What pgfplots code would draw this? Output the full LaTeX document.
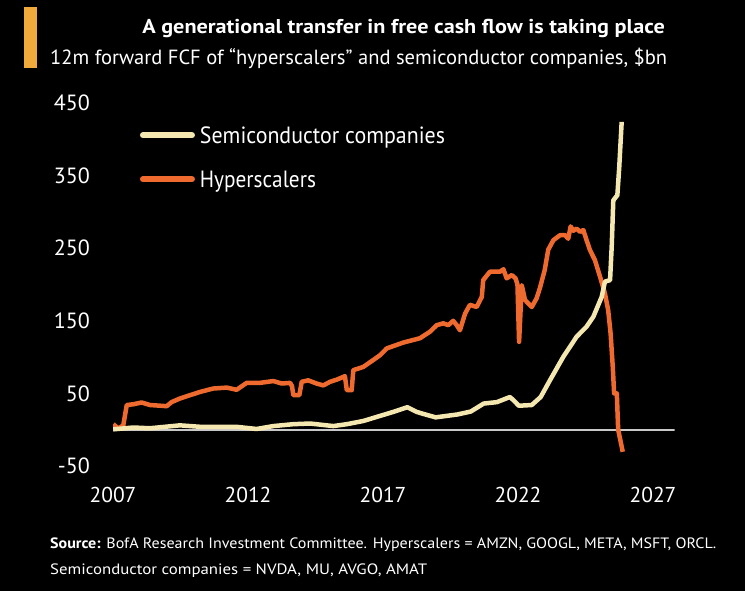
\documentclass[border=0pt]{standalone}
\usepackage{pgfplots}
\pgfplotsset{compat=1.18}
\usepackage{graphicx}
\usepackage{fontspec}
\setmainfont{PT Sans}
\definecolor{hyper}{HTML}{EE6A2E}
\definecolor{semi}{HTML}{F5E7B0}
\definecolor{zeroline}{HTML}{C8C8C8}
\definecolor{barcol}{HTML}{F2A93B}
\begin{document}
\begin{tikzpicture}
\path[use as bounding box, fill=black] (0,0) rectangle (745bp,591bp);
\fill[barcol] (24bp,523bp) rectangle (37bp,584bp);
\node[anchor=base east, inner sep=0pt, text=white] at (665bp,557.7bp)
  {\resizebox{522.5bp}{\height}{\fontsize{20bp}{24bp}\selectfont\bfseries A generational transfer in free cash flow is taking place}};
\node[anchor=base west, inner sep=0pt, text=white] at (50bp,526.7bp)
  {\resizebox{617bp}{\height}{\fontsize{20.5bp}{24bp}\selectfont 12m forward FCF of “hyperscalers” and semiconductor companies, \$bn}};
\node[anchor=base west, inner sep=0pt, text=white] at (50bp,42bp)
  {\resizebox{666bp}{\height}{\fontsize{15bp}{18bp}\selectfont\textbf{Source:} BofA Research Investment Committee. Hyperscalers = AMZN, GOOGL, META, MSFT, ORCL.}};
\node[anchor=base west, inner sep=0pt, text=white] at (50bp,17bp)
  {\resizebox{377bp}{\height}{\fontsize{15bp}{18bp}\selectfont Semiconductor companies = NVDA, MU, AVGO, AMAT}};
\begin{axis}[
  at={(113bp,125bp)}, anchor=south west,
  scale only axis, width=561.6bp, height=363bp,
  xmin=2007, xmax=2027.8, ymin=-50, ymax=450,
  axis line style={draw=none}, tick style={draw=none},
  xtick={2007,2012,2017,2022,2027},
  xticklabels={2007,2012,2017,2022,2027},
  ytick={-50,50,150,250,350,450},
  yticklabels={-50,50,150,250,350,450},
  xticklabel style={anchor=center, inner sep=0pt, yshift=-29bp, text=white, font=\fontsize{21.5bp}{24bp}\selectfont},
  yticklabel style={anchor=east, inner sep=0pt, xshift=-23bp, text=white, font=\fontsize{22bp}{24bp}\selectfont},
  /pgf/number format/assume math mode=true,
  legend style={at={(0.048,0.944)}, anchor=north west, draw=none, fill=none,
    inner sep=0pt, outer sep=0pt, row sep=20bp, column sep=5bp,
    nodes={inner sep=0pt, text=white, text height=20bp, text depth=4bp},
    font=\fontsize{23.5bp}{26bp}\selectfont},
  legend cell align=left,
  reverse legend,
  legend image code/.code={\draw[#1, line width=6bp, line cap=round] (3bp,0bp) -- (52bp,0bp);},
]
\addplot[zeroline, line width=2bp, forget plot] coordinates {(2007,0) (2027.8,0)};
\addplot[hyper, line width=4.5bp, line join=round] coordinates {
(2007.01,7.6) (2007.20,1.6) (2007.38,6) (2007.51,34) (2007.75,35) (2008.06,37.5)
(2008.37,34) (2008.99,32.4) (2009.17,38) (2009.48,43) (2009.85,47.5) (2010.22,52)
(2010.71,56.7) (2011.21,58) (2011.58,55) (2011.95,64.5) (2012.44,64.5) (2012.94,67)
(2013.25,63.6) (2013.56,64.5) (2013.63,60) (2013.68,47.5) (2013.90,47.5) (2013.99,66)
(2014.23,68) (2014.54,63.6) (2014.79,61) (2015.04,66) (2015.29,69) (2015.59,73.7)
(2015.66,54.4) (2015.84,54.4) (2015.90,82) (2016.27,86.5) (2016.64,96) (2016.89,102.6)
(2017.14,112) (2017.75,120) (2018.37,126) (2018.74,135) (2018.99,144) (2019.23,146.5)
(2019.42,144) (2019.60,150) (2019.73,144) (2019.85,137) (2020.04,160) (2020.22,172)
(2020.47,169) (2020.66,183) (2020.71,206) (2020.96,217.6) (2021.33,217.6) (2021.46,221)
(2021.58,208.5) (2021.77,213) (2021.91,208.5) (2021.98,200) (2022.04,121) (2022.14,199)
(2022.26,178.6) (2022.51,169) (2022.69,181) (2022.81,195) (2022.99,220) (2023.12,248)
(2023.31,261) (2023.56,268) (2023.74,268) (2023.86,263) (2023.95,280) (2024.05,274)
(2024.17,277) (2024.30,272.5) (2024.42,275) (2024.54,261) (2024.67,247) (2024.85,233.5)
(2025.04,210.5) (2025.22,187.6) (2025.34,164.6) (2025.43,132.5) (2025.51,86.5) (2025.56,50)
(2025.66,50) (2025.71,0) (2025.88,-30.5)
};
\addlegendentry{\resizebox{116bp}{\height}{Hyperscalers}}
\addplot[semi, line width=4.5bp, line join=round] coordinates {
(2007.01,0.5) (2007.75,3) (2008.37,2) (2009.48,6) (2010.22,4) (2011.56,4)
(2012.32,1) (2012.94,5) (2013.68,7.6) (2014.30,8.5) (2015.16,5) (2015.66,7.6)
(2016.27,12) (2016.89,19) (2017.38,24.5) (2017.90,31) (2018.25,24.5) (2018.47,22)
(2018.95,17) (2019.76,21) (2020.25,25) (2020.73,36) (2021.22,38) (2021.70,45)
(2021.85,40) (2022.03,33) (2022.51,34) (2022.84,45) (2023.19,68.5) (2023.68,100.5)
(2024.17,128) (2024.54,142) (2024.79,155.6) (2025.10,183) (2025.22,204) (2025.41,206)
(2025.47,252) (2025.53,316) (2025.68,323) (2025.75,362) (2025.84,424)
};
\addlegendentry{\resizebox{245bp}{\height}{Semiconductor companies}}
\end{axis}
\end{tikzpicture}
\end{document}
